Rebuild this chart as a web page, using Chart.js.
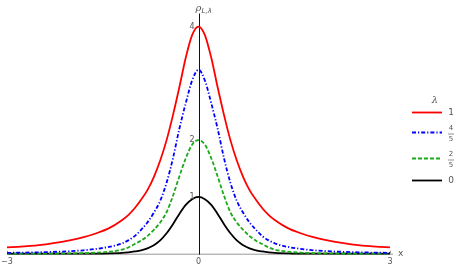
<!DOCTYPE html>
<html>
<head>
<meta charset="utf-8">
<script src="https://cdn.jsdelivr.net/npm/chart.js@4/dist/chart.umd.min.js"></script>
<style>
html,body{margin:0;padding:0;background:#fff;}
#wrap{position:relative;width:461px;height:268px;}
</style>
</head>
<body>
<div id="wrap"><canvas id="c" width="461" height="268"></canvas></div>
<script>
const xValues = [-3,-2.5,-2,-1.8,-1.6,-1.4,-1.2,-1.1,-1,-0.9,-0.8,-0.7,-0.6,-0.5,-0.4,-0.3,-0.2,-0.1,0,0.1,0.2,0.3,0.4,0.5,0.6,0.7,0.8,0.9,1,1.1,1.2,1.4,1.6,1.8,2,2.5,3];
const rhoLambda1 = [0.11,0.15,0.24,0.29,0.36,0.45,0.59,0.68,0.80,0.95,1.12,1.35,1.64,2.00,2.44,2.93,3.45,3.85,4.00,3.85,3.45,2.93,2.44,2.00,1.64,1.35,1.12,0.95,0.80,0.68,0.59,0.45,0.36,0.29,0.24,0.15,0.11];
const rhoLambda45 = [0.015,0.025,0.045,0.06,0.085,0.12,0.18,0.235,0.31,0.42,0.55,0.72,0.93,1.25,1.68,2.20,2.65,3.05,3.24,3.05,2.65,2.20,1.68,1.25,0.93,0.72,0.55,0.42,0.31,0.235,0.18,0.12,0.085,0.06,0.045,0.025,0.015];
const rhoLambda25 = [0,0.002,0.006,0.01,0.018,0.035,0.07,0.11,0.17,0.23,0.31,0.42,0.55,0.73,1.02,1.36,1.68,1.92,2.00,1.92,1.68,1.36,1.02,0.73,0.55,0.42,0.31,0.23,0.17,0.11,0.07,0.035,0.018,0.01,0.006,0.002,0];
const rhoLambda0 = [0,0,0,0.001,0.002,0.006,0.015,0.025,0.04,0.06,0.095,0.15,0.235,0.36,0.52,0.70,0.86,0.96,1.00,0.96,0.86,0.70,0.52,0.36,0.235,0.15,0.095,0.06,0.04,0.025,0.015,0.006,0.002,0.001,0,0,0];
const xTickValues = [-3,0,3];
const xTickLabels = ['\u22123','0','3'];
const yTickValues = [1,2,4];
const yTickLabels = ['1','2','4'];
const legendNumerators = ['1','4','2','0'];
const legendDenominators = ['','5','5',''];

const seriesColors = ['#ff0000','#0000ff','#1aaa1a','#000000'];
const seriesDash = [[],[4,2,1.2,2],[4,2],[]];
const seriesData = [rhoLambda1, rhoLambda45, rhoLambda25, rhoLambda0];

const datasets = seriesData.map((arr,i)=>({
  label: legendNumerators[i],
  data: xValues.map((x,j)=>({x:x,y:arr[j]})),
  borderColor: seriesColors[i],
  borderWidth: 1.8,
  borderDash: seriesDash[i],
  pointRadius: 0,
  fill: false,
  cubicInterpolationMode: 'monotone',
  clip: false
}));

const axesPlugin = {
  id: 'axesPlugin',
  beforeDatasetsDraw(chart){
    const ctx = chart.ctx, xs = chart.scales.x, ys = chart.scales.y;
    const x0 = xs.getPixelForValue(0), y0 = ys.getPixelForValue(0);
    ctx.save();
    ctx.strokeStyle = '#999';
    ctx.lineWidth = 1;
    ctx.beginPath();
    ctx.moveTo(xs.getPixelForValue(-3), y0 + 0.5);
    ctx.lineTo(xs.right + 3, y0 + 0.5);
    ctx.stroke();
    xTickValues.forEach(v=>{
      const px = Math.round(xs.getPixelForValue(v)) + 0.5;
      ctx.beginPath(); ctx.moveTo(px, y0); ctx.lineTo(px, y0 - 3); ctx.stroke();
    });
    ctx.strokeStyle = '#111';
    ctx.beginPath();
    ctx.moveTo(Math.round(x0) + 0.5, ys.top);
    ctx.lineTo(Math.round(x0) + 0.5, y0 + 1);
    ctx.stroke();
    ctx.strokeStyle = '#999';
    yTickValues.forEach(v=>{
      const py = Math.round(ys.getPixelForValue(v)) + 0.5;
      ctx.beginPath(); ctx.moveTo(x0, py); ctx.lineTo(x0 - 3, py); ctx.stroke();
    });
    ctx.restore();
  },
  afterDraw(chart){
    const ctx = chart.ctx, xs = chart.scales.x, ys = chart.scales.y;
    const x0 = xs.getPixelForValue(0), y0 = ys.getPixelForValue(0);
    ctx.save();
    ctx.fillStyle = '#555';
    ctx.font = '8px "DejaVu Sans", sans-serif';
    ctx.textAlign = 'center'; ctx.textBaseline = 'middle';
    xTickValues.forEach((v,i)=>{
      ctx.fillText(xTickLabels[i], xs.getPixelForValue(v), y0 + 8.5);
    });
    ctx.textAlign = 'right';
    yTickValues.forEach((v,i)=>{
      ctx.fillText(yTickLabels[i], x0 - 4, ys.getPixelForValue(v));
    });
    ctx.textAlign = 'left';
    ctx.font = '9px "DejaVu Sans", sans-serif';
    ctx.fillText('x', xs.right + 8, y0);
    ctx.font = 'italic 10px "DejaVu Serif", serif';
    ctx.fillText('\u03c1', x0 - 3, 8);
    ctx.font = 'italic 7px "DejaVu Sans", sans-serif';
    ctx.fillText('L,\u03bb', x0 + 3, 11);
    ctx.textAlign = 'center';
    ctx.fillStyle = '#555';
    ctx.font = 'italic 10px "DejaVu Serif", serif';
    ctx.fillText('\u03bb', 435, 100);
    const rows = [112.5, 132.5, 158.5, 180.5];
    rows.forEach((ry,i)=>{
      ctx.strokeStyle = seriesColors[i];
      ctx.lineWidth = 1.8;
      ctx.setLineDash(seriesDash[i]);
      ctx.beginPath(); ctx.moveTo(412, ry); ctx.lineTo(442, ry); ctx.stroke();
      ctx.setLineDash([]);
      ctx.fillStyle = '#555';
      if (legendDenominators[i]) {
        ctx.font = '7px "DejaVu Sans", sans-serif';
        ctx.fillText(legendNumerators[i], 451, ry - 4);
        ctx.fillText(legendDenominators[i], 451, ry + 7);
        ctx.strokeStyle = '#777'; ctx.lineWidth = 0.8;
        ctx.beginPath(); ctx.moveTo(448, ry + 1.5); ctx.lineTo(454, ry + 1.5); ctx.stroke();
      } else {
        ctx.font = '9px "DejaVu Sans", sans-serif';
        ctx.fillText(legendNumerators[i], 451, ry);
      }
    });
    ctx.restore();
  }
};

new Chart(document.getElementById('c'), {
  type: 'line',
  data: { datasets: datasets },
  options: {
    responsive: false,
    animation: false,
    devicePixelRatio: 1,
    layout: { padding: { left: 7, right: 71, top: 13.5, bottom: 14.3 } },
    plugins: { legend: { display: false }, tooltip: { enabled: false } },
    scales: {
      x: { type: 'linear', min: -3, max: 3, display: false },
      y: { type: 'linear', min: 0, max: 4.23, display: false }
    }
  },
  plugins: [axesPlugin]
});
</script>
</body>
</html>
